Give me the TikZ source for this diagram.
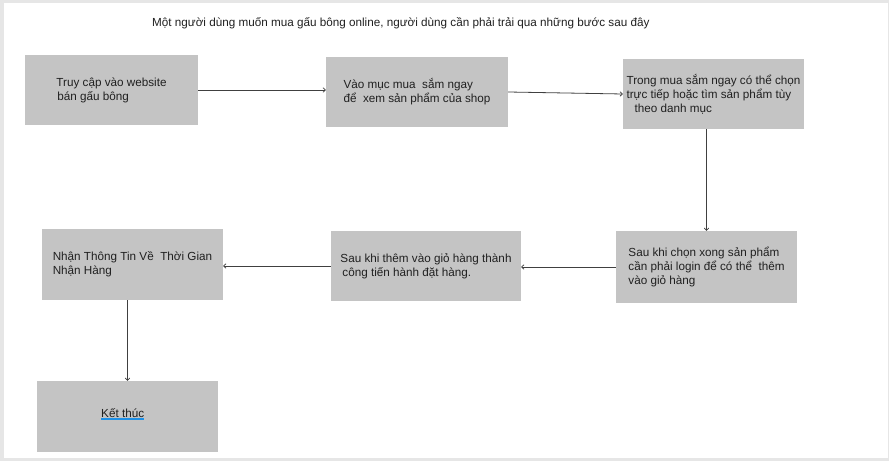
\documentclass[tikz,border=0pt]{standalone}
\usepackage{fontspec}
\setmainfont{Liberation Sans}
\usetikzlibrary{arrows.meta}
\definecolor{boxgray}{HTML}{C4C4C4}
\definecolor{framegray}{HTML}{E6E6E6}
\definecolor{txt}{HTML}{202020}
\definecolor{arr}{HTML}{404040}
\definecolor{ulblue}{HTML}{1E90E6}
\begin{document}
\begin{tikzpicture}[x=1pt,y=1pt,
  stepbox/.style={rectangle,fill=boxgray,draw=none,text=txt,align=left,
    font=\fontsize{11.7}{14}\selectfont,inner sep=0pt},
  flow/.style={draw=arr,line width=0.8pt,-{To[length=3pt,width=5pt]}}]
\useasboundingbox (0,0) rectangle (889,461);
\fill[framegray] (0,0) rectangle (889,461);
\fill[white] (4,3) rectangle (888,458);
\node[anchor=base west,text=txt,font=\fontsize{11.7}{14}\selectfont,inner sep=0pt] (title) at (152,434)
  {Một người dùng muốn mua gấu bông online, người dùng cần phải trải qua những bước sau đây};
\node[stepbox,minimum width=173,minimum height=70] (b1) at (111.5,371)
  {Truy cập vào website\\\hspace{1pt}bán gấu bông};
\node[stepbox,minimum width=182,minimum height=70] (b2) at (417,369)
  {Vào mục mua\ \ sắm ngay\\để\ \ xem sản phẩm của shop};
\node[stepbox,minimum width=181,minimum height=70] (b3) at (713.5,367)
  {Trong mua sắm ngay có thể chọn\\trực tiếp hoặc tìm sản phẩm tùy\\\hspace{8pt}theo danh mục};
\node[stepbox,minimum width=181,minimum height=72] (b4) at (706.5,194)
  {Sau khi chọn xong sản phẩm\\cần phải login để có thể\ \ thêm\\vào giỏ hàng};
\node[stepbox,minimum width=190,minimum height=70] (b5) at (426,195)
  {Sau khi thêm vào giỏ hàng thành\\\hspace{2pt}công tiến hành đặt hàng.};
\node[stepbox,minimum width=181,minimum height=71] (b6) at (132.5,196.5)
  {Nhận Thông Tin Về\ \ Thời Gian\\Nhận Hàng};
\node[stepbox,minimum width=181,minimum height=71] (b7) at (127.5,44.5) {};
\node[anchor=base west,text=txt,font=\fontsize{11.7}{14}\selectfont,inner sep=0pt] (kt) at (101,44) {Kết thúc};
\draw[ulblue,line width=1.5pt] ([yshift=-2pt]kt.base west) -- ([yshift=-2pt]kt.base east);
\draw[flow] (b1.east) -- (b1.east -| b2.west);
\draw[flow] (b2.east) -- (b3.west);
\draw[flow] (b4.north |- b3.south) -- (b4.north);
\draw[flow] (b4.west) -- (b4.west -| b5.east);
\draw[flow] (b5.west) -- (b5.west -| b6.east);
\draw[flow] (b7.north |- b6.south) -- (b7.north);
\end{tikzpicture}
\end{document}
